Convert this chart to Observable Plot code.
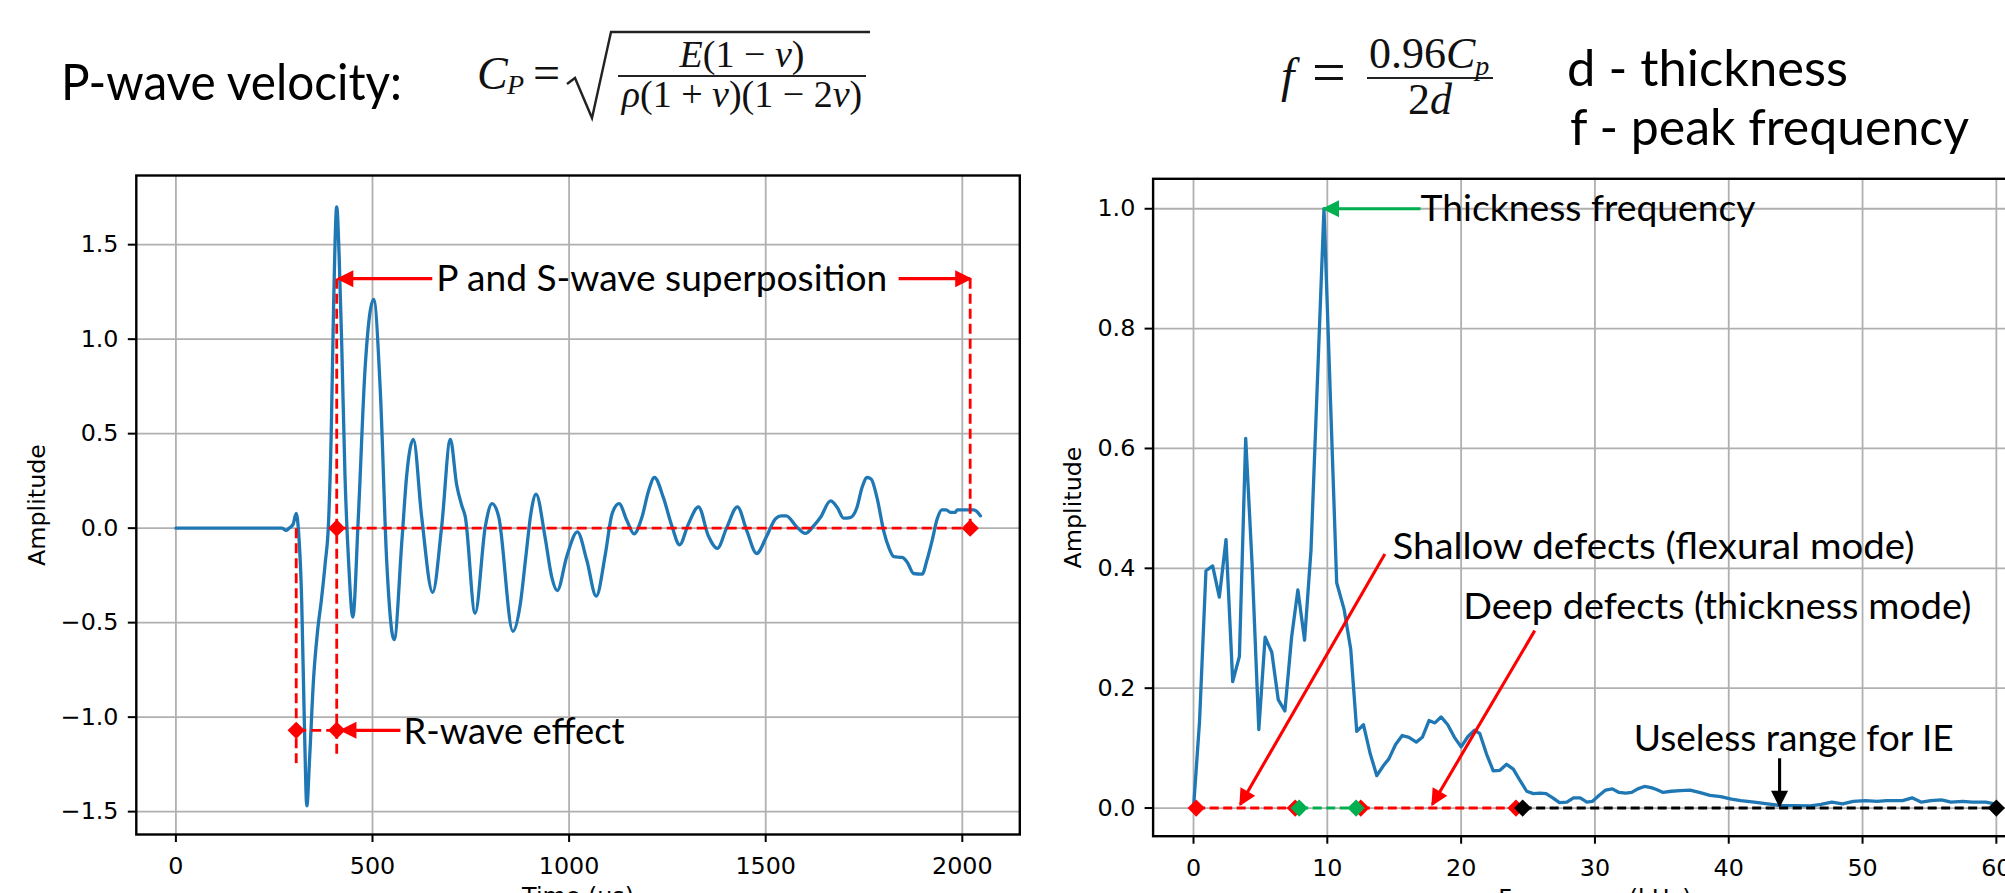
<!DOCTYPE html>
<html><head><meta charset="utf-8">
<script src="https://cdn.jsdelivr.net/npm/d3@7"></script>
<script src="https://cdn.jsdelivr.net/npm/@observablehq/plot@0.6"></script>
<style>
html,body{margin:0;padding:0;background:#fff;}
#stage{position:relative;width:2005px;height:893px;overflow:hidden;background:#fff;}
#stage svg{position:absolute;top:0;}
</style></head><body><div id="stage"></div>
<script>
// ---------- tick values ----------
const timeTicks = [0, 500, 1000, 1500, 2000];
const ampTicksL = [-1.5, -1.0, -0.5, 0.0, 0.5, 1.0, 1.5];
const freqTicks = [0, 10, 20, 30, 40, 50, 60];
const ampTicksR = [0.0, 0.2, 0.4, 0.6, 0.8, 1.0];

// ---------- time signal ----------
const timeUs = [0,270,280,288,298,306,312,320,327,333,340,350,360,370,380,388,395,401,409,415,422,430,439,450,464,481,503,520,536,555,575,587,604,625,653,676,698,714,727,736,761,787,804,821,857,876,890,903,916,939,956,970,994,1021,1045,1069,1092,1109,1127,1147,1165,1185,1202,1217,1240,1261,1281,1303,1329,1354,1377,1401,1428,1452,1477,1503,1525,1540,1552,1580,1601,1622,1639,1665,1682,1698,1715,1732,1745,1758,1768,1783,1800,1813,1826,1847,1860,1876,1898,1910,1923,1936,1948,1959,1970,1982,1987,2029,2037,2046];
const timeAmp = [0,0,-0.012,0,0.02,0.078,-0.02,-0.39,-1.06,-1.47,-1.22,-0.80,-0.55,-0.38,-0.18,0.02,0.5,1.17,1.70,1.45,0.95,0.28,-0.17,-0.47,0.06,0.84,1.21,0.72,-0.17,-0.59,-0.06,0.28,0.47,0.06,-0.34,0.01,0.47,0.23,0.12,0.06,-0.45,0.01,0.13,0.06,-0.546,-0.40,-0.15,0.08,0.18,-0.05,-0.26,-0.33,-0.15,-0.02,-0.17,-0.36,-0.14,0.074,0.13,0.04,-0.03,0.056,0.197,0.268,0.16,0.014,-0.088,0.02,0.113,-0.04,-0.107,0.004,0.113,-0.014,-0.134,-0.04,0.05,0.065,0.065,0.004,-0.028,0.012,0.056,0.144,0.109,0.053,0.056,0.109,0.215,0.268,0.26,0.162,-0.014,-0.102,-0.151,-0.155,-0.18,-0.24,-0.243,-0.17,-0.067,0.048,0.097,0.097,0.083,0.083,0.097,0.097,0.088,0.065];

// ---------- spectrum ----------
const freqKHz = [0,0.45,0.93,1.43,1.93,2.43,2.93,3.43,3.9,4.38,4.88,5.35,5.85,6.33,6.83,7.33,7.8,8.3,8.78,9.75,10.7,11.25,11.75,12.2,12.7,13.2,13.7,14.2,14.6,15.1,15.6,16.1,16.65,17.1,17.6,18.04,18.5,19.0,19.5,20.0,20.5,21.0,21.4,21.9,22.4,22.9,23.4,23.9,24.4,24.9,25.4,25.9,26.35,26.85,27.35,27.9,28.4,28.9,29.4,29.8,30.3,30.8,31.3,31.8,32.3,32.75,33.2,33.7,34.2,34.6,35.1,35.7,36.4,37.1,37.8,38.6,39.4,40.2,40.9,41.9,42.9,43.9,44.9,46.1,46.9,47.7,48.5,49.3,50.2,51.1,51.8,52.5,53.0,53.7,54.4,55.1,55.9,56.6,57.5,58.2,59.2,59.9];
const specAmp = [0,0.144,0.396,0.404,0.352,0.448,0.211,0.253,0.617,0.406,0.131,0.285,0.26,0.181,0.162,0.285,0.364,0.28,0.43,1.0,0.376,0.332,0.265,0.128,0.139,0.091,0.054,0.071,0.082,0.106,0.121,0.118,0.11,0.118,0.146,0.142,0.152,0.139,0.118,0.102,0.119,0.13,0.124,0.09,0.062,0.063,0.073,0.065,0.046,0.028,0.024,0.025,0.024,0.017,0.009,0.0097,0.017,0.017,0.01,0.011,0.021,0.03,0.032,0.026,0.025,0.026,0.032,0.036,0.034,0.031,0.026,0.028,0.029,0.030,0.026,0.021,0.019,0.015,0.0125,0.0097,0.007,0.004,0.004,0.0036,0.006,0.0097,0.007,0.011,0.0125,0.011,0.0125,0.0125,0.0125,0.017,0.0097,0.0125,0.0136,0.0097,0.011,0.0097,0.0097,0.007];

// ---------- left annotations (data coordinates) ----------
const leftDashX1 = [409, 306, 306, 409, 2020];
const leftDashY1 = [0, -1.07, 0, 1.32, 1.32];
const leftDashX2 = [2020, 409, 306, 409, 2020];
const leftDashY2 = [0, -1.07, -1.25, -1.21, 0];
const leftMarkX = [409, 2020, 306, 409];
const leftMarkY = [0, 0, -1.07, -1.07];
const leftArrowX1 = [652, 1838, 571];
const leftArrowY1 = [1.32, 1.32, -1.07];
const leftArrowX2 = [413, 2020, 421];
const leftArrowY2 = [1.32, 1.32, -1.07];
const leftLabels = ["P and S-wave superposition", "R-wave effect"];
const leftLabelX = [662, 579];
const leftLabelY = [1.315, -1.078];

// ---------- right annotations (data coordinates) ----------
const rightDashX1 = [0.2, 7.9, 12.5, 24.6];
const rightDashX2 = [7.6, 12.15, 24.1, 60];
const rightDashColor = ["#ff0000", "#00b050", "#ff0000", "#000000"];
const rightMarkX = [0.2, 7.6, 12.5, 24.1, 7.9, 12.15, 24.6, 60];
const rightMarkColor = ["#ff0000", "#ff0000", "#ff0000", "#ff0000", "#00b050", "#00b050", "#000000", "#000000"];
const rightArrowX1 = [16.97, 14.3, 25.5, 43.8];
const rightArrowY1 = [1.0, 0.424, 0.296, 0.083];
const rightArrowX2 = [9.75, 3.5, 17.85, 43.8];
const rightArrowY2 = [1.0, 0.006, 0.006, 0.004];
const rightArrowColor = ["#00b050", "#ff0000", "#ff0000", "#000000"];
const rightLabels = ["Thickness frequency", "Shallow defects (flexural mode)", "Deep defects (thickness mode)", "Useless range for IE"];
const rightLabelX = [16.97, 14.87, 20.16, 32.9];
const rightLabelY = [0.999, 0.435, 0.336, 0.1155];

// ---------- tables built from the arrays ----------
const sig = timeUs.map((t, i) => ({t, a: timeAmp[i]}));
const spec = freqKHz.map((f, i) => ({f, a: specAmp[i]}));
const lDash = leftDashX1.map((x, i) => ({x1: x, y1: leftDashY1[i], x2: leftDashX2[i], y2: leftDashY2[i]}));
const lMarks = leftMarkX.map((x, i) => ({x, y: leftMarkY[i]}));
const lArrows = leftArrowX1.map((x, i) => ({x1: x, y1: leftArrowY1[i], x2: leftArrowX2[i], y2: leftArrowY2[i]}));
const lText = leftLabels.map((s, i) => ({s, x: leftLabelX[i], y: leftLabelY[i]}));
const rDash = rightDashX1.map((x, i) => ({x1: x, x2: rightDashX2[i], c: rightDashColor[i]}));
const rMarks = rightMarkX.map((x, i) => ({x, c: rightMarkColor[i]}));
const rArrows = rightArrowX1.map((x, i) => ({x1: x, y1: rightArrowY1[i], x2: rightArrowX2[i], y2: rightArrowY2[i], c: rightArrowColor[i]}));
const rText = rightLabels.map((s, i) => ({s, x: rightLabelX[i], y: rightLabelY[i]}));

// ---------- styles ----------
const TICKFONT = "DejaVu Sans";
const TICKSIZE = 23.8;
const ANNFONT = "Lato, 'Open Sans', sans-serif";
const ANNSIZE = 37;
// rendered widths (px) of the annotation texts in the original (Calibri-like) lettering
const annWidths = {"P and S-wave superposition": 451, "R-wave effect": 221, "Thickness frequency": 335,
  "Shallow defects (flexural mode)": 522, "Deep defects (thickness mode)": 508, "Useless range for IE": 320};
const gridStyle = {stroke: "#b0b0b0", strokeOpacity: 1, strokeWidth: 1.8};
const fmt1 = d3.format(".1f");

function commonAxes(xt, yt, xlabel, ylabelDx) {
  return [
    Plot.gridX(xt, gridStyle),
    Plot.gridY(yt, gridStyle),
    Plot.axisX(xt, {tickSize: 8, tickPadding: 14.5, tickFormat: d => String(d), fontSize: TICKSIZE, fontFamily: TICKFONT, fill: "#000", stroke: "#000", strokeWidth: 2, label: null}),
    Plot.axisY(yt, {tickSize: 8, tickPadding: 9.8, tickFormat: fmt1, fontSize: TICKSIZE, fontFamily: TICKFONT, fill: "#000", stroke: "#000", strokeWidth: 2, label: null}),
    Plot.text([xlabel], {frameAnchor: "bottom", lineAnchor: "top", dy: 53, fontSize: TICKSIZE, fontFamily: TICKFONT, fill: "#000"}),
    Plot.text(["Amplitude"], {frameAnchor: "left", rotate: -90, textAnchor: "middle", lineAnchor: "middle", dx: ylabelDx, fontSize: TICKSIZE, fontFamily: TICKFONT, fill: "#000"})
  ];
}

const stage = document.getElementById("stage");

const left = Plot.plot({
  width: 1030, height: 893,
  marginLeft: 135.8, marginRight: 10.7, marginTop: 175, marginBottom: 59,
  x: {domain: [-100.7, 2146.2]},
  y: {domain: [-1.621, 1.866]},
  color: {type: "identity"},
  style: {background: "transparent", overflow: "visible"},
  marks: [
    ...commonAxes(timeTicks, ampTicksL, "Time (μs)", -98.6),
    Plot.line(sig, {x: "t", y: "a", stroke: "#1f77b4", strokeWidth: 3.3, curve: "monotone-x"}),
    Plot.link(lDash, {x1: "x1", y1: "y1", x2: "x2", y2: "y2", stroke: "#ff0000", strokeWidth: 2.8, strokeDasharray: "10,5"}),
    Plot.dot(lMarks, {x: "x", y: "y", symbol: "diamond2", r: 7.8, fill: "#ff0000", stroke: "none"}),
    Plot.link(lArrows, {x1: "x1", y1: "y1", x2: "x2", y2: "y2", stroke: "#ff0000", strokeWidth: 3.3, markerEnd: "arrow"}),
    Plot.text(lText, {x: "x", y: "y", text: "s", textAnchor: "start", lineAnchor: "middle", fontSize: ANNSIZE, fontFamily: ANNFONT, fill: "#000"}),
    Plot.frame({stroke: "#000", strokeWidth: 2.4})
  ]
});
left.style.left = "0px";
stage.appendChild(left);

const right = Plot.plot({
  width: 1000, height: 893,
  marginLeft: 112.6, marginRight: 4, marginTop: 178.3, marginBottom: 57.3,
  x: {domain: [-3.02, 63.0]},
  y: {domain: [-0.047, 1.05]},
  color: {type: "identity"},
  style: {background: "transparent", overflow: "visible"},
  marks: [
    ...commonAxes(freqTicks, ampTicksR, "Frequency (kHz)", -80.1),
    Plot.line(spec, {x: "f", y: "a", stroke: "#1f77b4", strokeWidth: 3.3}),
    Plot.link(rDash, {x1: "x1", x2: "x2", y1: 0, y2: 0, stroke: "c", strokeWidth: 2.9, strokeDasharray: "9,4.5"}),
    Plot.dot(rMarks, {x: "x", y: 0, symbol: "diamond2", r: 7.8, fill: "c", stroke: "none"}),
    Plot.link(rArrows, {x1: "x1", y1: "y1", x2: "x2", y2: "y2", stroke: "c", strokeWidth: 3.1, markerEnd: "arrow"}),
    Plot.text(rText, {x: "x", y: "y", text: "s", textAnchor: "start", lineAnchor: "middle", fontSize: ANNSIZE, fontFamily: ANNFONT, fill: "#000"}),
    Plot.frame({stroke: "#000", strokeWidth: 2.4})
  ]
});
right.style.left = "1040px";
stage.appendChild(right);

// filled arrow heads and annotation widths as in the original
const NS = "http://www.w3.org/2000/svg";
function fitWidth(t, w) {
  t.setAttribute("textLength", w.toFixed(1));
  t.setAttribute("lengthAdjust", "spacingAndGlyphs");
}
for (const svg of [left, right]) {
  svg.querySelectorAll("marker").forEach(m => {
    const c = m.getAttribute("stroke") || "#000";
    m.setAttribute("viewBox", "-18 -10 22 20");
    m.setAttribute("markerWidth", "22");
    m.setAttribute("markerHeight", "20");
    m.setAttribute("markerUnits", "userSpaceOnUse");
    m.setAttribute("refX", "0");
    m.setAttribute("refY", "0");
    m.setAttribute("orient", "auto");
    m.setAttribute("fill", c);
    m.setAttribute("stroke", "none");
    m.setAttribute("stroke-width", "0");
    while (m.firstChild) m.removeChild(m.firstChild);
    const p = document.createElementNS(NS, "path");
    p.setAttribute("d", "M2,0L-15,-8.5L-15,8.5Z");
    m.appendChild(p);
  });
  svg.querySelectorAll("text").forEach(t => {
    const w = annWidths[t.textContent];
    if (w) fitWidth(t, w);
  });
}

// ---------- header: titles and formulas ----------
const hdr = d3.select(stage).append("svg").attr("width", 2005).attr("height", 170).style("left", "0px");
const sans = "Lato, 'Open Sans', sans-serif";
const serif = "'Liberation Serif', 'DejaVu Serif', serif";
const titles = [
  {s: "P-wave velocity:", x: 61, y: 100, w: 341},
  {s: "d - thickness", x: 1567, y: 86, w: 281},
  {s: "f - peak frequency", x: 1570, y: 145, w: 399}
];
for (const d of titles) {
  const t = hdr.append("text").attr("x", d.x).attr("y", d.y).attr("font-family", sans).attr("font-size", 50).text(d.s);
  fitWidth(t.node(), d.w);
}

// formula 1
const fb = 76;
const g1 = hdr.append("g").attr("font-family", serif).attr("fill", "#111");
g1.append("text").attr("x", 477).attr("y", fb + 13).attr("font-size", 46).attr("font-style", "italic").text("C");
g1.append("text").attr("x", 507).attr("y", fb + 18).attr("font-size", 28).attr("font-style", "italic").text("P");
g1.append("text").attr("x", 533).attr("y", fb + 13).attr("font-size", 48).text("=");
g1.append("path").attr("d", `M567,${fb + 8}L575,${fb + 2}L592,${fb + 42}L611,32L870,32`).attr("fill", "none").attr("stroke", "#222").attr("stroke-width", 2.4);
g1.append("line").attr("x1", 618).attr("x2", 866).attr("y1", fb).attr("y2", fb).attr("stroke", "#222").attr("stroke-width", 2);
const num1 = g1.append("text").attr("x", 742).attr("y", fb - 9).attr("font-size", 38).attr("text-anchor", "middle");
num1.append("tspan").attr("font-style", "italic").text("E");
num1.append("tspan").text("(1 − ");
num1.append("tspan").attr("font-style", "italic").text("v");
num1.append("tspan").text(")");
const den1 = g1.append("text").attr("x", 742).attr("y", fb + 31).attr("font-size", 38).attr("text-anchor", "middle");
den1.append("tspan").attr("font-style", "italic").text("ρ");
den1.append("tspan").text("(1 + ");
den1.append("tspan").attr("font-style", "italic").text("v");
den1.append("tspan").text(")(1 − 2");
den1.append("tspan").attr("font-style", "italic").text("v");
den1.append("tspan").text(")");

// formula 2
const fb2 = 78;
const g2 = hdr.append("g").attr("font-family", serif).attr("fill", "#111");
g2.append("text").attr("x", 1281).attr("y", fb2 + 14).attr("font-size", 48).attr("font-style", "italic").text("f");
g2.append("text").attr("x", 1312).attr("y", fb2 + 14).attr("font-size", 60).text("=");
g2.append("line").attr("x1", 1367).attr("x2", 1493).attr("y1", fb2).attr("y2", fb2).attr("stroke", "#222").attr("stroke-width", 2.2);
const num2 = g2.append("text").attr("x", 1369).attr("y", fb2 - 10).attr("font-size", 44);
num2.append("tspan").text("0.96");
num2.append("tspan").attr("font-style", "italic").text("C");
num2.append("tspan").attr("font-style", "italic").attr("font-size", 28).attr("dy", 7).text("p");
const den2 = g2.append("text").attr("x", 1430).attr("y", fb2 + 36).attr("font-size", 44).attr("text-anchor", "middle");
den2.append("tspan").text("2");
den2.append("tspan").attr("font-style", "italic").text("d");
</script>
</body></html>
